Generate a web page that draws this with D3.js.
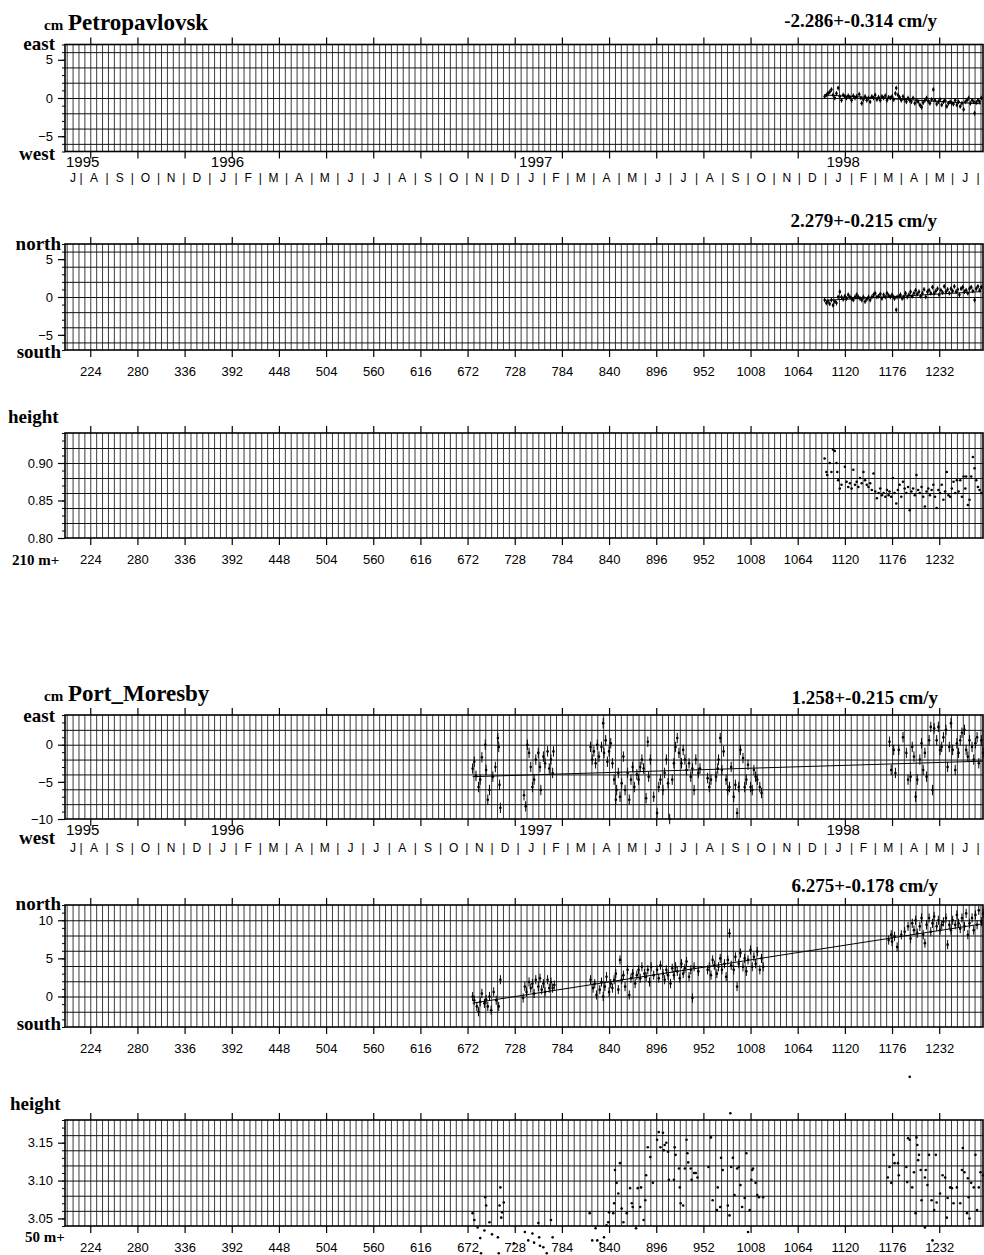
<!DOCTYPE html>
<html>
<head>
<meta charset="utf-8">
<script src="https://cdn.jsdelivr.net/npm/d3@7"></script>
<style>
  body { margin: 0; background: #fff; }
  svg { display: block; }
  .serif { font-family: "Liberation Serif", "Times New Roman", serif; font-weight: bold; fill: #000; }
  .sans { font-family: "Liberation Sans", Arial, Helvetica, sans-serif; fill: #000; }
</style>
</head>
<body>
<svg id="chart" width="984" height="1255"></svg>
<script>
// Day numbers count from day 1 = 1 January 1995.
const dayDomain = [194, 1284];
const dayTicks = [224, 280, 336, 392, 448, 504, 560, 616, 672, 728, 784, 840, 896, 952, 1008, 1064, 1120, 1176, 1232];
const yearLabels = ["1995", "1996", "1997", "1998"];
const monthInitials = ["J", "F", "M", "A", "M", "J", "J", "A", "S", "O", "N", "D"];

// ---------- Petropavlovsk: [day, value] ----------
const petroEast = [[1096,0.2],[1098,0.4],[1100,0.6],[1102,0.8],[1104,1.1],[1106,0.4],[1108,0.0],[1110,0.6],[1112,1.3],[1114,0.2],[1116,-0.3],[1118,0.4],[1120,0.2],[1122,0.0],[1124,0.3],[1126,0.1],[1128,-0.3],[1130,0.3],[1132,0.0],[1134,0.2],[1137,0.5],[1139,0.0],[1140,-0.7],[1142,-0.2],[1144,0.2],[1146,-0.3],[1148,0.0],[1150,-0.5],[1152,0.2],[1154,0.0],[1156,0.4],[1158,-0.2],[1160,0.1],[1162,-0.3],[1164,0.2],[1166,0.0],[1168,0.3],[1170,-0.3],[1172,0.1],[1174,0.0],[1176,0.2],[1178,-0.2],[1180,0.6],[1181,1.3],[1183,0.4],[1185,0.1],[1187,-0.3],[1189,0.2],[1191,-0.2],[1193,-0.5],[1195,0.0],[1197,-0.3],[1199,-0.5],[1201,0.0],[1203,-0.7],[1205,-0.3],[1207,-0.5],[1209,-0.9],[1211,-1.2],[1213,-0.6],[1215,-0.3],[1217,0.0],[1219,-0.4],[1221,-0.7],[1223,-0.2],[1225,1.1],[1227,-0.3],[1229,-0.8],[1231,-0.5],[1233,-0.2],[1235,-0.9],[1237,-0.5],[1239,-0.3],[1241,-1.1],[1243,-0.7],[1245,-0.5],[1247,-0.7],[1249,-0.8],[1251,-0.3],[1253,-0.9],[1255,-0.5],[1257,-1.1],[1259,-0.7],[1261,-1.5],[1263,-0.5],[1265,-0.3],[1267,0.0],[1269,-0.7],[1271,-0.3],[1273,-0.5],[1274,-2.0],[1276,-0.6],[1278,-0.3],[1280,-0.5],[1282,0.0]];

const petroNorth = [[1096,-0.4],[1098,-0.8],[1100,-0.6],[1102,-0.9],[1104,-0.4],[1106,-1.1],[1108,-0.6],[1110,-0.8],[1112,0.0],[1114,0.7],[1116,0.0],[1118,-0.3],[1120,0.1],[1122,-0.2],[1124,0.3],[1126,0.0],[1128,-0.2],[1130,-0.4],[1132,0.0],[1134,0.3],[1136,0.0],[1138,-0.2],[1140,-0.4],[1142,0.0],[1144,-0.6],[1146,-0.3],[1148,0.0],[1150,-0.4],[1152,0.0],[1154,0.3],[1156,0.5],[1158,0.0],[1160,0.1],[1162,0.4],[1164,-0.2],[1166,0.3],[1168,0.0],[1170,0.5],[1172,0.2],[1174,0.0],[1176,0.3],[1178,0.0],[1179,-0.2],[1181,-1.7],[1182,0.0],[1185,0.1],[1186,0.3],[1188,-0.2],[1190,0.0],[1192,0.5],[1194,0.0],[1196,0.3],[1198,0.7],[1200,0.1],[1202,0.5],[1204,0.9],[1206,0.4],[1208,0.7],[1210,0.1],[1212,0.5],[1214,1.0],[1216,0.0],[1218,0.7],[1220,0.9],[1222,0.5],[1224,1.3],[1226,0.5],[1228,0.8],[1230,1.1],[1232,0.3],[1234,0.9],[1236,0.6],[1238,1.4],[1240,0.7],[1242,1.0],[1244,0.5],[1246,1.1],[1248,0.8],[1250,1.4],[1252,0.7],[1254,1.0],[1256,0.3],[1258,1.1],[1260,1.3],[1262,0.7],[1264,0.9],[1266,0.5],[1268,1.1],[1270,1.3],[1272,0.8],[1274,-0.4],[1276,1.1],[1278,1.4],[1280,0.9],[1282,1.3]];

const petroHeight = [[1096,0.906],[1098,0.888],[1099,0.884],[1102,0.900],[1104,0.888],[1106,0.918],[1108,0.916],[1110,0.900],[1111,0.888],[1112,0.877],[1114,0.866],[1116,0.871],[1120,0.895],[1122,0.875],[1124,0.868],[1126,0.873],[1128,0.866],[1130,0.891],[1132,0.871],[1134,0.875],[1136,0.868],[1138,0.880],[1140,0.873],[1142,0.888],[1144,0.877],[1146,0.871],[1148,0.868],[1150,0.873],[1152,0.864],[1154,0.886],[1156,0.862],[1158,0.853],[1160,0.860],[1162,0.866],[1164,0.857],[1166,0.860],[1168,0.855],[1170,0.864],[1172,0.857],[1173,0.862],[1175,0.855],[1177,0.880],[1179,0.860],[1181,0.846],[1183,0.864],[1185,0.871],[1187,0.855],[1189,0.875],[1191,0.866],[1193,0.860],[1195,0.868],[1197,0.837],[1199,0.862],[1201,0.866],[1203,0.857],[1205,0.884],[1207,0.864],[1209,0.860],[1211,0.868],[1213,0.855],[1215,0.842],[1217,0.862],[1219,0.866],[1221,0.857],[1223,0.864],[1225,0.871],[1227,0.855],[1229,0.840],[1231,0.864],[1233,0.860],[1235,0.871],[1237,0.851],[1239,0.862],[1241,0.888],[1243,0.857],[1245,0.855],[1247,0.866],[1249,0.875],[1251,0.860],[1253,0.877],[1255,0.862],[1257,0.877],[1259,0.855],[1261,0.882],[1263,0.866],[1264,0.882],[1266,0.844],[1268,0.851],[1270,0.882],[1272,0.908],[1274,0.893],[1276,0.877],[1278,0.868],[1280,0.864],[1282,0.860]];

// ---------- Port Moresby: [day, value] ----------
const moresbyEast = [[678,-3.2],[680,-2.3],[682,-4.2],[685,-5.7],[687,-4.7],[689,-1.7],[693,0.0],[694,-3.4],[696,-7.4],[698,-6.1],[702,-4.3],[705,-3.0],[708,0.9],[709,-0.3],[710,-5.4],[711,-8.5],
  [739,-6.8],[741,-8.3],[743,0.0],[745,-1.1],[747,-3.0],[749,-5.7],[751,-4.7],[753,-2.0],[756,-1.1],[758,-3.0],[759,-6.1],[762,-1.6],[764,-2.5],[767,-0.9],[769,-3.2],[771,-2.0],[773,-3.8],[774,-0.9],
  [818,-0.3],[820,-2.0],[822,-0.9],[824,-2.5],[826,0.0],[828,-1.6],[831,-0.3],[833,2.9],[834,-1.1],[836,0.6],[838,-2.3],[840,-0.9],[842,0.2],[844,-2.5],[846,-4.7],[848,-7.4],[849,-6.1],[851,-3.8],[853,-7.0],[855,-5.2],[857,-1.6],[859,-6.1],[862,-3.8],[864,-7.4],[866,-4.7],[868,-3.0],[870,-5.7],[873,-4.0],[875,-4.7],[877,-3.0],[879,-2.0],[881,-3.2],[884,-7.2],[886,0.4],[887,-4.3],[889,-2.0],[893,-7.0],[897,-9.2],[899,-5.7],[901,-4.7],[904,-6.1],[906,-3.8],[908,-2.0],[910,-5.2],[912,-10.0],[915,-4.7],[917,-2.5],[919,-0.3],[921,0.9],[923,-1.1],[926,-2.5],[928,-0.7],[930,-2.0],[932,-3.4],[935,-2.5],[937,-4.3],[939,-3.2],[941,-6.1],[943,-2.0],[946,-3.8],[948,-3.2],[957,-4.5],[959,-5.7],[961,-4.7],[967,-4.3],[969,-3.2],[970,-2.0],[972,0.9],[974,-3.4],[976,-0.9],[979,-4.7],[981,-6.1],[983,-5.7],[985,-3.0],[988,-7.0],[990,-5.4],[992,-9.2],[994,-5.7],[996,-0.7],[999,-1.8],[1001,-5.7],[1003,-4.7],[1005,-2.7],[1008,-5.7],[1010,-6.1],[1012,-3.4],[1014,-4.3],[1016,-4.7],[1019,-5.7],[1021,-6.5],
  [1173,0.4],[1175,-3.4],[1178,-0.7],[1180,-3.8],[1184,-0.7],[1189,1.0],[1193,-1.1],[1195,-4.7],[1198,-4.3],[1200,-0.3],[1202,-1.6],[1204,-7.0],[1206,-4.7],[1209,-2.0],[1211,0.2],[1213,-3.4],[1215,-1.1],[1217,-4.3],[1220,0.6],[1222,2.4],[1224,-6.1],[1226,2.2],[1229,0.6],[1231,2.4],[1233,-0.7],[1235,-0.3],[1237,1.0],[1240,2.0],[1242,-3.0],[1244,-0.3],[1246,2.9],[1248,-0.7],[1251,-3.4],[1253,0.2],[1255,-1.1],[1257,0.6],[1259,1.6],[1262,2.0],[1264,-0.7],[1266,-1.6],[1268,0.6],[1271,-0.3],[1273,-2.0],[1275,0.2],[1277,1.0],[1279,-2.5],[1282,0.6],[1284,-1.1]];

const moresbyNorth = [[678,0.0],[680,-0.5],[683,-1.3],[685,-2.0],[687,-0.7],[689,0.4],[692,-0.9],[694,-0.4],[696,-1.3],[698,0.0],[700,-1.8],[703,0.6],[706,-0.5],[709,-1.3],[711,2.2],
  [738,-0.2],[740,1.3],[742,0.6],[745,1.9],[747,1.1],[749,1.7],[751,0.4],[753,2.2],[756,1.3],[758,2.4],[760,0.9],[762,1.7],[764,0.6],[767,2.2],[769,1.1],[771,1.9],[773,1.1],[775,1.5],
  [818,2.2],[821,1.1],[823,1.7],[825,0.2],[829,0.9],[831,1.9],[833,0.0],[835,1.3],[837,2.6],[840,0.6],[842,1.7],[844,1.1],[846,2.2],[848,3.0],[851,0.9],[853,4.8],[855,2.2],[857,2.8],[859,1.3],[862,3.5],[864,0.2],[866,2.4],[868,3.0],[871,1.7],[873,2.8],[875,3.5],[877,2.4],[879,3.9],[882,3.0],[884,2.6],[886,3.5],[888,1.9],[890,3.9],[893,2.8],[897,3.5],[899,2.4],[901,4.1],[904,3.0],[906,2.2],[908,3.5],[910,2.8],[913,1.7],[915,3.7],[917,2.8],[919,3.9],[921,3.3],[924,2.4],[926,4.3],[928,3.0],[930,3.7],[932,4.6],[935,2.6],[937,3.5],[939,-0.2],[941,3.9],[946,3.3],[957,3.5],[959,3.9],[961,2.8],[963,4.8],[965,4.1],[968,3.0],[970,3.9],[972,5.0],[974,3.5],[977,4.3],[979,2.6],[981,4.8],[983,8.3],[985,4.1],[988,3.5],[990,5.2],[992,1.3],[994,4.3],[996,5.7],[999,3.9],[1001,5.0],[1003,3.3],[1005,4.8],[1008,6.1],[1010,3.9],[1012,5.2],[1014,4.3],[1016,5.9],[1019,3.5],[1021,5.0],[1023,3.9],
  [1172,7.4],[1175,8.1],[1176,7.2],[1179,7.9],[1182,6.5],[1187,8.1],[1191,8.5],[1195,9.2],[1198,7.6],[1200,9.6],[1202,8.7],[1204,10.0],[1206,8.3],[1209,9.2],[1211,10.3],[1213,8.1],[1215,7.0],[1217,9.4],[1220,10.3],[1222,8.5],[1224,9.6],[1226,10.5],[1229,9.2],[1231,10.0],[1233,8.7],[1235,9.4],[1237,9.8],[1240,10.3],[1242,6.8],[1244,9.4],[1246,8.7],[1248,10.0],[1251,9.4],[1253,10.7],[1255,9.6],[1257,8.9],[1259,10.3],[1262,9.2],[1264,10.9],[1266,8.1],[1268,9.6],[1271,10.3],[1273,8.7],[1275,10.7],[1277,9.4],[1279,11.3],[1282,9.8],[1284,10.9]];

const moresbyHeight = [[678,3.057],[680,3.048],[684,3.038],[687,3.024],[688,3.004],[692,3.034],[693,3.078],[694,3.067],[698,3.045],[701,3.029],[708,3.025],[709,3.004],[710,3.067],[711,3.091],[712,3.051],[713,3.058],[715,3.071],
  [727,3.017],[740,3.032],[744,3.021],[749,3.030],[751,3.018],[756,3.044],[757,3.025],[758,3.014],[762,3.012],[766,3.004],[771,3.048],[773,3.025],
  [817,3.057],[820,3.021],[824,3.037],[826,3.021],[830,3.017],[834,3.025],[837,3.041],[839,3.045],[840,3.058],[845,3.057],[846,3.070],[847,3.114],[849,3.097],[851,3.083],[853,3.123],[855,3.063],[857,3.045],[861,3.057],[865,3.090],[867,3.070],[868,3.065],[872,3.037],[874,3.090],[877,3.065],[878,3.091],[881,3.048],[883,3.074],[884,3.107],[886,3.144],[889,3.131],[892,3.097],[897,3.154],[899,3.164],[901,3.144],[904,3.163],[905,3.140],[906,3.147],[908,3.150],[910,3.138],[911,3.101],[917,3.101],[918,3.144],[919,3.134],[923,3.116],[924,3.091],[925,3.070],[928,3.067],[930,3.116],[932,3.154],[933,3.136],[934,3.124],[937,3.116],[938,3.101],[941,3.110],[943,3.110],[945,3.104],[958,3.118],[961,3.157],[963,3.074],[968,3.061],[969,3.091],[972,3.065],[973,3.130],[975,3.114],[981,3.067],[983,3.054],[984,3.189],[985,3.118],[987,3.130],[989,3.081],[992,3.116],[994,3.118],[996,3.094],[998,3.065],[1001,3.077],[1003,3.136],[1005,3.032],[1007,3.061],[1009,3.101],[1010,3.114],[1011,3.116],[1014,3.097],[1016,3.081],[1018,3.078],[1023,3.078],
  [1171,3.104],[1173,3.118],[1175,3.097],[1178,3.134],[1179,3.123],[1183,3.123],[1184,3.107],[1193,3.118],[1194,3.098],[1195,3.156],[1197,3.154],[1197,3.237],[1200,3.091],[1202,3.111],[1204,3.057],[1205,3.157],[1206,3.147],[1207,3.127],[1208,3.134],[1210,3.114],[1211,3.074],[1215,3.104],[1215,3.038],[1216,3.114],[1218,3.094],[1220,3.134],[1223,3.074],[1224,3.021],[1226,3.061],[1228,3.134],[1229,3.071],[1233,3.083],[1236,3.107],[1239,3.104],[1241,3.051],[1242,3.077],[1245,3.091],[1247,3.090],[1249,3.070],[1253,3.091],[1257,3.070],[1259,3.114],[1260,3.143],[1262,3.111],[1265,3.057],[1266,3.103],[1267,3.078],[1268,3.050],[1270,3.097],[1273,3.091],[1275,3.134],[1277,3.061],[1279,3.091],[1281,3.111],[1284,3.107]];

// Linear velocities (cm/yr, with uncertainty) and the fitted value on the first day of each series
const petroEastRate = [-2.286, 0.314];
const petroNorthRate = [2.279, 0.215];
const moresbyEastRate = [1.258, 0.215];
const moresbyNorthRate = [6.275, 0.178];
const petroEastFitStart = [1096, 0.40];
const petroNorthFitStart = [1096, -0.45];
const moresbyEastFitStart = [678, -4.3];
const moresbyNorthFitStart = [678, -0.87];

// Y tick labels for each panel
const cmTicksPetro = [5, 0, -5];
const cmTicksMoresbyEast = [0, -5, -10];
const cmTicksMoresbyNorth = [10, 5, 0];
const heightTicksPetro = [0.90, 0.85, 0.80];
const heightTicksMoresby = [3.15, 3.10, 3.05];

// ---------------------------------------------------------------
const svg = d3.select("#chart");
const X0 = 65, X1 = 983;
const x = d3.scaleLinear().domain(dayDomain).range([X0, X1]);
const weeklyDays = d3.range(196, dayDomain[1], 7);

const origin = new Date(1995, 0, 1);
const dateOfDay = d => d3.timeDay.offset(origin, d - 1);
const dayOfDate = t => d3.timeDay.count(origin, t) + 1;

function serifText(txt, px, xPos, yPos, anchor) {
  svg.append("text").attr("class", "serif")
    .attr("x", xPos).attr("y", yPos)
    .attr("font-size", px)
    .attr("text-anchor", anchor || "start")
    .text(txt);
}

function panel(cfg) {
  const y = d3.scaleLinear().domain(cfg.domain).range([cfg.bottom, cfg.top]);
  const g = svg.append("g");
  const h = cfg.bottom - cfg.top;

  // weekly vertical grid
  g.append("g").attr("transform", `translate(0,${cfg.bottom})`)
    .call(d3.axisBottom(x).tickValues(weeklyDays).tickSize(-h).tickFormat(""))
    .call(s => s.select(".domain").remove())
    .call(s => s.selectAll("line").attr("stroke", "#333").attr("stroke-width", 0.95));

  // horizontal grid
  const hGrid = d3.range(Math.ceil(cfg.domain[0] / cfg.gridStep + 1e-6), Math.floor(cfg.domain[1] / cfg.gridStep - 1e-6) + 1)
    .map(k => +(k * cfg.gridStep).toFixed(4))
    .filter(v => v > cfg.domain[0] + 1e-6 && v < cfg.domain[1] - 1e-6);
  g.append("g").attr("transform", `translate(${X0},0)`)
    .call(d3.axisRight(y).tickValues(hGrid).tickSize(X1 - X0).tickFormat(""))
    .call(s => s.select(".domain").remove())
    .call(s => s.selectAll("line").attr("stroke", "#111").attr("stroke-width", 1));

  // frame
  g.append("rect").attr("x", X0).attr("y", cfg.top).attr("width", X1 - X0).attr("height", h)
    .attr("fill", "none").attr("stroke", "#000").attr("stroke-width", 1.6);

  // major day ticks above and below the frame
  g.append("g").attr("transform", `translate(0,${cfg.top})`)
    .call(d3.axisTop(x).tickValues(dayTicks).tickSize(7).tickFormat(""))
    .call(s => s.select(".domain").remove())
    .call(s => s.selectAll("line").attr("stroke", "#000").attr("stroke-width", 1.2));
  const bottomAxis = g.append("g").attr("transform", `translate(0,${cfg.bottom})`)
    .call(d3.axisBottom(x).tickValues(dayTicks).tickSize(7)
      .tickFormat(cfg.dayLabels ? d3.format("d") : ""))
    .call(s => s.select(".domain").remove())
    .call(s => s.selectAll("line").attr("stroke", "#000").attr("stroke-width", 1.2));
  bottomAxis.selectAll("text").attr("class", "sans").attr("font-size", 13)
    .attr("dy", null).attr("y", 26);

  // left value axis: minor ticks, then labelled ticks
  const minor = d3.range(Math.ceil(cfg.domain[0] / cfg.minorStep - 1e-6), Math.floor(cfg.domain[1] / cfg.minorStep + 1e-6) + 1)
    .map(k => +(k * cfg.minorStep).toFixed(4));
  g.append("g").attr("transform", `translate(${X0},0)`)
    .call(d3.axisLeft(y).tickValues(minor).tickSize(3).tickFormat(""))
    .call(s => s.select(".domain").remove())
    .call(s => s.selectAll("line").attr("stroke", "#000").attr("stroke-width", 1));
  const left = g.append("g").attr("transform", `translate(${X0},0)`)
    .call(d3.axisLeft(y).tickValues(cfg.labels).tickSize(7).tickPadding(5).tickFormat(cfg.fmt))
    .call(s => s.select(".domain").remove())
    .call(s => s.selectAll("line").attr("stroke", "#000").attr("stroke-width", 1.2));
  left.selectAll("text").attr("class", "sans").attr("font-size", 13);

  // fitted velocity line
  if (cfg.fit) {
    const [d0, v0] = cfg.fit;
    const d1 = d3.max(cfg.data, d => d[0]);
    const v1 = v0 + cfg.rate[0] * (d1 - d0) / 365.25;
    g.append("line")
      .attr("x1", x(d0)).attr("y1", y(v0)).attr("x2", x(d1)).attr("y2", y(v1))
      .attr("stroke", "#000").attr("stroke-width", 1);
  }

  // daily solutions with their error bars
  if (cfg.sigma) {
    g.append("g").selectAll("line").data(cfg.data).join("line")
      .attr("x1", d => x(d[0])).attr("x2", d => x(d[0]))
      .attr("y1", d => y(d[1] - cfg.sigma)).attr("y2", d => y(d[1] + cfg.sigma))
      .attr("stroke", "#000").attr("stroke-width", 1);
  }
  g.append("g").selectAll("circle").data(cfg.data).join("circle")
    .attr("cx", d => x(d[0])).attr("cy", d => y(d[1]))
    .attr("r", cfg.r || 1.3).attr("fill", "#000");

  return y;
}

function timeRows(yearBase, monthBase) {
  // years, labelled from the first visible day of each year
  yearLabels.forEach(lbl => {
    const d = Math.max(dayOfDate(new Date(+lbl, 0, 1)), dayDomain[0]);
    svg.append("text").attr("class", "sans").attr("font-size", 15)
      .attr("x", x(d) + 1).attr("y", yearBase).text(lbl);
  });
  // month initials separated by bars at month boundaries
  const t0 = d3.timeMonth.floor(dateOfDay(dayDomain[0]));
  const months = d3.timeMonth.range(t0, dateOfDay(dayDomain[1]));
  months.forEach(m => {
    const next = d3.timeMonth.offset(m, 1);
    const a = dayOfDate(m), b = dayOfDate(next);
    if ((a + b) / 2 > dayDomain[1]) return;
    const mid = (Math.max(a, dayDomain[0]) + Math.min(b, dayDomain[1])) / 2;
    svg.append("text").attr("class", "sans").attr("font-size", 12)
      .attr("x", x(mid)).attr("y", monthBase).attr("text-anchor", "middle")
      .text(monthInitials[m.getMonth()]);
    if (b <= dayDomain[1]) {
      svg.append("text").attr("class", "sans").attr("font-size", 12)
        .attr("x", x(b)).attr("y", monthBase).attr("text-anchor", "middle").text("|");
    }
  });
}

const cmFmt = d3.format("d");
const hFmt = d3.format(".2f");

// ===== Petropavlovsk =====
serifText("cm", 15, 44, 30);
serifText("Petropavlovsk", 23, 68, 30);
serifText(`${petroEastRate[0].toFixed(3)}+-${petroEastRate[1].toFixed(3)} cm/y`, 19, 937, 27, "end");
panel({ top: 44.5, bottom: 151.5, domain: [-7, 7], gridStep: 2, minorStep: 1,
  labels: cmTicksPetro, fmt: cmFmt, data: petroEast, sigma: 0.3,
  fit: petroEastFitStart, rate: petroEastRate });
serifText("east", 19, 55, 50, "end");
serifText("west", 19, 55, 160, "end");
timeRows(167, 182);

serifText(`${petroNorthRate[0].toFixed(3)}+-${petroNorthRate[1].toFixed(3)} cm/y`, 19, 937, 227, "end");
panel({ top: 244, bottom: 350, domain: [-7, 7], gridStep: 2, minorStep: 1,
  labels: cmTicksPetro, fmt: cmFmt, data: petroNorth, sigma: 0.3, dayLabels: true,
  fit: petroNorthFitStart, rate: petroNorthRate });
serifText("north", 19, 61, 250, "end");
serifText("south", 19, 61, 358, "end");

serifText("height", 19, 8, 423);
panel({ top: 433, bottom: 538, domain: [0.80, 0.94], gridStep: 0.02, minorStep: 0.01,
  labels: heightTicksPetro, fmt: hFmt, data: petroHeight, dayLabels: true, r: 1.3 });
serifText("210 m+", 15, 12, 565);

// ===== Port Moresby =====
serifText("cm", 15, 44, 701);
serifText("Port_Moresby", 23, 68, 701);
serifText(`${moresbyEastRate[0].toFixed(3)}+-${moresbyEastRate[1].toFixed(3)} cm/y`, 19, 938, 704, "end");
panel({ top: 715, bottom: 819, domain: [-10, 4], gridStep: 2, minorStep: 1,
  labels: cmTicksMoresbyEast, fmt: cmFmt, data: moresbyEast, sigma: 0.7,
  fit: moresbyEastFitStart, rate: moresbyEastRate });
serifText("east", 19, 55, 722, "end");
serifText("west", 19, 55, 844, "end");
timeRows(835, 852);

serifText(`${moresbyNorthRate[0].toFixed(3)}+-${moresbyNorthRate[1].toFixed(3)} cm/y`, 19, 938, 892, "end");
panel({ top: 905, bottom: 1027, domain: [-4, 12], gridStep: 2, minorStep: 1,
  labels: cmTicksMoresbyNorth, fmt: cmFmt, data: moresbyNorth, sigma: 0.6, dayLabels: true,
  fit: moresbyNorthFitStart, rate: moresbyNorthRate });
serifText("north", 19, 61, 910, "end");
serifText("south", 19, 61, 1030, "end");

serifText("height", 19, 10, 1110);
panel({ top: 1120, bottom: 1226, domain: [3.04, 3.18], gridStep: 0.02, minorStep: 0.01,
  labels: heightTicksMoresby, fmt: hFmt, data: moresbyHeight, dayLabels: true, r: 1.3 });
serifText("50 m+", 15, 25, 1242);
</script>
</body>
</html>
